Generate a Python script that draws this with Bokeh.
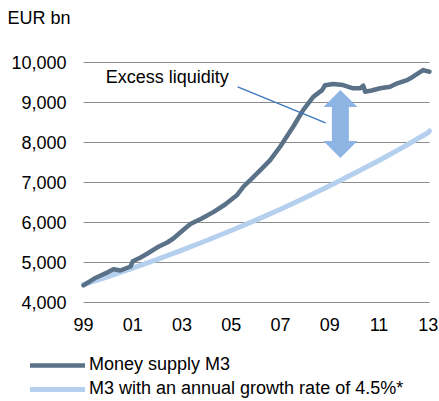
from bokeh.plotting import figure
from bokeh.models import (Label, Legend, LegendItem, FixedTicker, NumeralTickFormatter, Range1d, Grid)
from bokeh.embed import file_html
from bokeh.resources import INLINE

# ---- data ----
m3_years = [1999.0, 1999.5, 2000.0, 2000.22, 2000.5, 2000.91, 2001.0, 2001.3, 2001.6,
            2002.0, 2002.4, 2002.65, 2002.93, 2003.34, 2003.8, 2004.27, 2004.75,
            2005.24, 2005.5, 2005.77, 2006.18, 2006.58, 2006.99, 2007.52, 2007.92,
            2008.33, 2008.69, 2008.81, 2009.14, 2009.54, 2009.95, 2010.23, 2010.36,
            2010.44, 2010.7, 2011.05, 2011.45, 2011.74, 2012.14, 2012.38, 2012.79, 2013.05]
m3_values = [4430, 4620, 4760, 4830, 4800, 4900, 5030, 5120, 5225,
             5380, 5500, 5600, 5750, 5960, 6100, 6260, 6450,
             6690, 6900, 7060, 7310, 7560, 7900, 8400, 8810,
             9140, 9310, 9430, 9460, 9435, 9355, 9355, 9420,
             9270, 9300, 9355, 9395, 9480, 9560, 9645, 9810, 9770]

trend_years = [1999, 2000, 2001, 2002, 2003, 2004, 2005, 2006, 2007, 2008, 2009,
               2010, 2011, 2012, 2013, 2013.05]
trend_values = [4450, 4650, 4860, 5080, 5310, 5550, 5800, 6060, 6330, 6620, 6920,
                7230, 7550, 7890, 8250, 8290]

tick_years = [1999, 2001, 2003, 2005, 2007, 2009, 2011, 2013]
tick_labels = ["99", "01", "03", "05", "07", "09", "11", "13"]
y_ticks = [4000, 5000, 6000, 7000, 8000, 9000, 10000]

series_names = ["Money supply M3", "M3 with an annual growth rate of 4.5%*"]

FONT = "Liberation Sans"
FS = "18px"
DARK, LIGHT = "#5a7188", "#b4d0ee"
X0, X1 = 1999.0, 2013.05
Y0, Y1 = 4000, 10000
W, H = 439, 401
# plot-area edges in canvas pixels
PL, PR, PT, PB = 83, 429, 62, 302
ppx = (PR - PL) / (X1 - X0)      # px per year
ppy = (PB - PT) / (Y1 - Y0)      # px per EUR bn

p = figure(width=W, height=H, output_backend="svg", toolbar_location=None,
           x_range=Range1d(X0 - PL / ppx, X1 + (W - PR) / ppx),
           y_range=Range1d(Y0 - (H - PB) / ppy, Y1 + PT / ppy),
           min_border_left=0, min_border_right=0, min_border_top=0, min_border_bottom=0)
p.outline_line_color = None
p.background_fill_color = "white"

# axes pinned to the plot-area corner
p.xaxis.fixed_location = Y0
p.yaxis.fixed_location = X0
p.xaxis.ticker = FixedTicker(ticks=tick_years)
p.xaxis.major_label_overrides = {t: l for t, l in zip(tick_years, tick_labels)}
p.yaxis.ticker = FixedTicker(ticks=y_ticks)
p.yaxis.formatter = NumeralTickFormatter(format="0,0")
for ax in (p.xaxis, p.yaxis):
    ax.axis_line_color = None
    ax.major_tick_line_color = None
    ax.minor_tick_line_color = None
    ax.major_tick_out = 0
    ax.major_tick_in = 0
    ax.minor_tick_out = 0
    ax.minor_tick_in = 0
    ax.major_label_text_font = FONT
    ax.major_label_text_font_size = FS
    ax.major_label_text_color = "black"
p.yaxis.major_label_standoff = 17
p.xaxis.major_label_standoff = 15
p.xgrid.grid_line_color = None

# horizontal gridlines only across the plot area
if "cross_bounds" in Grid.properties():
    p.ygrid.cross_bounds = (X0, X1)
    p.ygrid.grid_line_color = "#8c8c8c"
    p.ygrid.grid_line_width = 1
else:
    p.ygrid.grid_line_color = None
    p.segment(x0=[X0] * len(y_ticks), x1=[X1] * len(y_ticks), y0=y_ticks, y1=y_ticks,
              line_color="#8c8c8c", line_width=1)

# lines
r_trend = p.line(trend_years, trend_values, line_color=LIGHT, line_width=5,
                 line_join="round", line_cap="round")
r_m3 = p.line(m3_years, m3_values, line_color=DARK, line_width=4.5,
              line_join="round", line_cap="round")

# double arrow (annotation)
c, top, bot = 2009.43, 9310, 7610
hx, sx, hl = 17 / ppx, 8.5 / ppx, 17 / ppy
ax_ = [c, c + hx, c + sx, c + sx, c + hx, c, c - hx, c - sx, c - sx, c - hx]
ay_ = [top, top - hl, top - hl, bot + hl, bot + hl, bot, bot + hl, bot + hl, top - hl, top - hl]
p.patch(ax_, ay_, fill_color="#8db4e2", line_color=None)

# pointer line + label
p.line([2005.26, 2008.83], [9390, 8490], line_color="#3f78bd", line_width=1.5)
p.add_layout(Label(x=1999.9, y=9650, text="Excess liquidity", text_font=FONT,
                   text_font_size=FS, text_baseline="middle", text_color="black"))

# unit label
p.add_layout(Label(x=X0, y=Y1, x_offset=-76, y_offset=45, text="EUR bn", text_font=FONT,
                   text_font_size=FS, text_baseline="middle", text_color="black"))

legend = Legend(items=[LegendItem(label=series_names[0], renderers=[r_m3]),
                       LegendItem(label=series_names[1], renderers=[r_trend])],
                location=(30, 2), glyph_width=55, glyph_height=18, label_height=18,
                spacing=3, padding=0, margin=0, label_standoff=4,
                label_text_font=FONT, label_text_font_size=FS, label_text_color="black",
                border_line_color=None, background_fill_alpha=0)
p.add_layout(legend, "center")

open("out.html", "w").write(file_html(p, INLINE))
